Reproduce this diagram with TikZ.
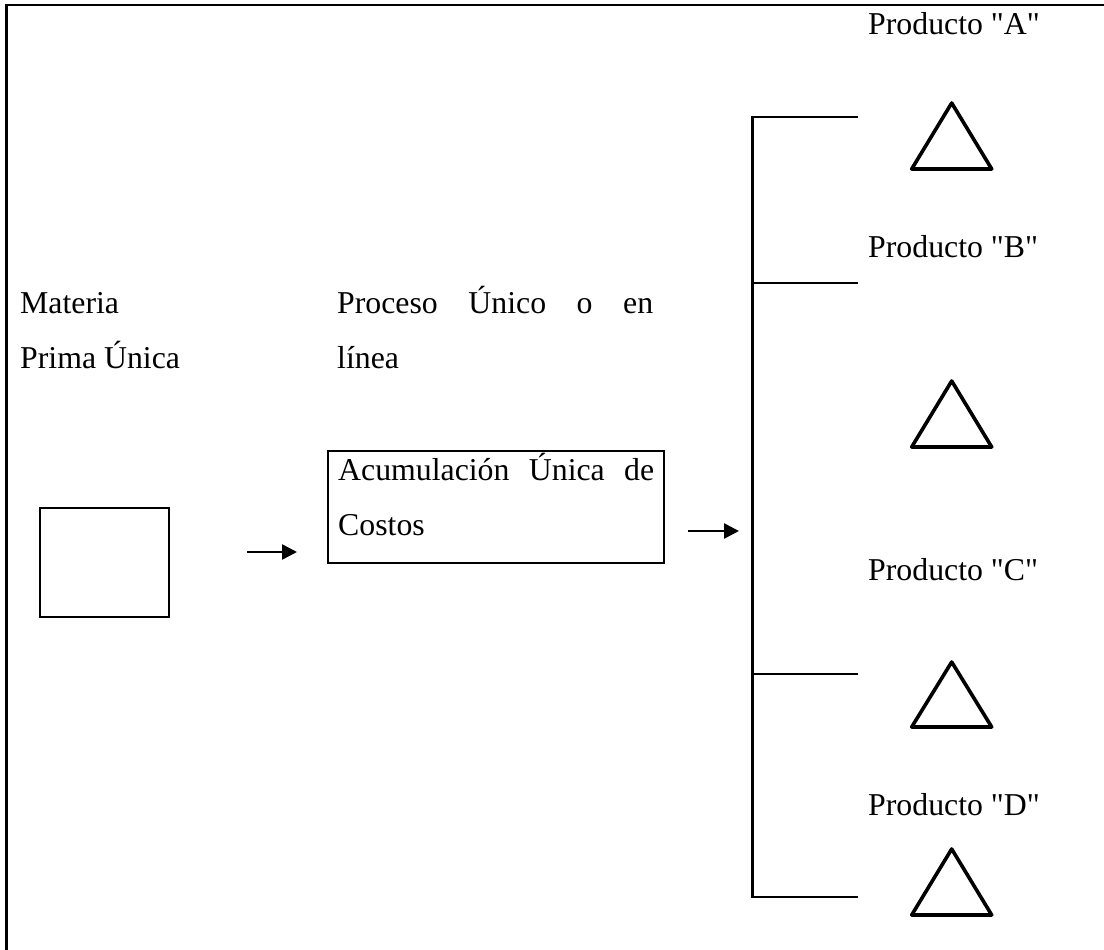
\documentclass[tikz,border=0pt]{standalone}
\usepackage{fontspec}
\setmainfont{Liberation Serif}[Ligatures=TeXOff]
\usetikzlibrary{arrows.meta}
\begin{document}
\begin{tikzpicture}[x=1pt,y=-1pt,
  lbl/.style={anchor=base west,inner sep=0pt,font=\fontsize{31.8}{37}\selectfont},
  frameline/.style={line width=2.5pt},
  branch/.style={line width=2.2pt},
  prodmark/.style={line width=3.6pt,line join=round},
  flow/.style={line width=2.6pt,-{Triangle[length=15pt,width=15pt]}},
  plainbox/.style={draw,inner sep=0pt}]
\useasboundingbox (0,0) rectangle (1104,950);
% outer frame (top and left edges)
\draw[frameline] (1104,5) -- (6.5,5) -- (6.5,950);
% input material
\node[lbl] (mat1) at (20,313) {Materia};
\node[lbl] (mat2) at (20,368) {Prima Única};
\node[plainbox,line width=1.8pt,minimum width=129pt,minimum height=109pt] (mp) at (104.5,562.5) {};
% process
\node[lbl] (proc1) at (337,313) {\makebox[316pt][s]{Proceso Único o en}};
\node[lbl] (proc2) at (337,368) {línea};
\node[plainbox,line width=2.4pt,minimum width=336pt,minimum height=112pt] (acc) at (496,507) {};
\node[lbl] (acc1) at (338,480) {\makebox[316pt][s]{Acumulación Única de}};
\node[lbl] (acc2) at (338,535) {Costos};
% flow arrows
\coordinate (a1s) at (247,552);
\coordinate (a1e) at (297,552);
\coordinate (a2s) at (688,531);
\coordinate (a2e) at (739,531);
\draw[flow] (a1s) -- (a1e);
\draw[flow] (a2s) -- (a2e);
% branching to products
\coordinate (ta) at (752.5,117);
\coordinate (tb) at (752.5,283);
\coordinate (tc) at (752.5,674);
\coordinate (td) at (752.5,897);
\coordinate (ea) at (858,117);
\coordinate (eb) at (858,283);
\coordinate (ec) at (858,674);
\coordinate (ed) at (858,897);
\draw[branch] (ea) -- (ta) -- (td) -- (ed);
\draw[branch] (tb) -- (eb);
\draw[branch] (tc) -- (ec);
% product labels
\node[lbl] (pa) at (868,35) {Producto "A"};
\node[lbl] (pb) at (868,257) {Producto "B"};
\node[lbl] (pc) at (868,580) {Producto "C"};
\node[lbl] (pd) at (868,815) {Producto "D"};
% product markers
\foreach \t/\b in {103/169, 381/447, 662/727, 849/915}
  \draw[prodmark] (951.7,\t) -- (991.7,\b) -- (911.7,\b) -- cycle;
\end{tikzpicture}
\end{document}
